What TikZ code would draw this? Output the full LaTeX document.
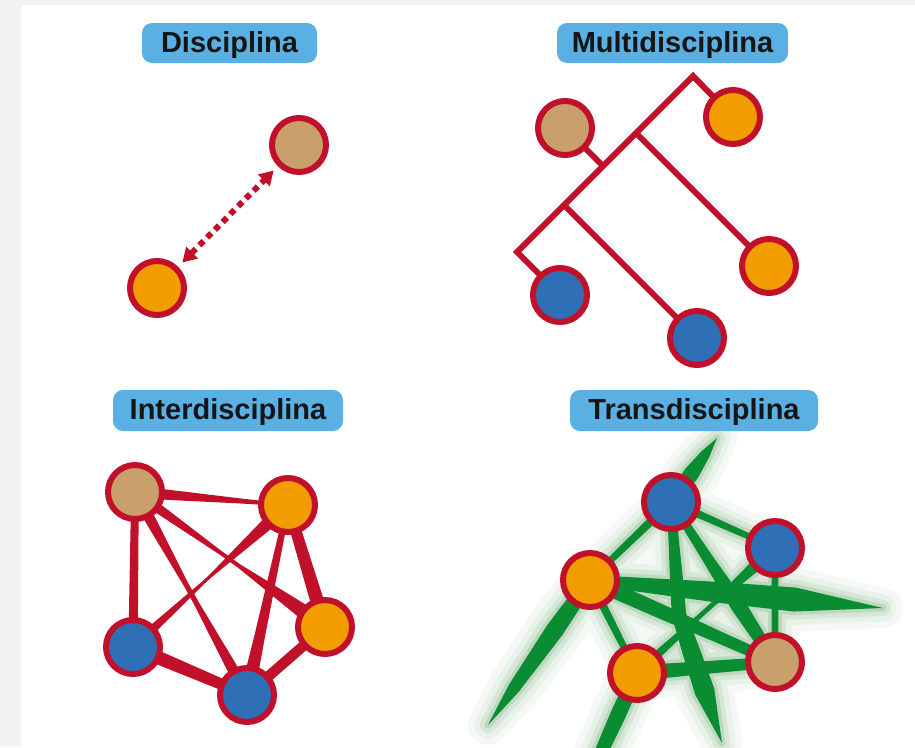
\documentclass[tikz,border=0pt]{standalone}
\usepackage{fontspec}
\setmainfont{Liberation Sans}
\usetikzlibrary{calc,arrows.meta}
\pgfdeclarelayer{back}
\pgfdeclarelayer{bg}
\pgfsetlayers{back,bg,main}
\definecolor{ringred}{HTML}{C0102A}
\definecolor{tanc}{HTML}{C9A06C}
\definecolor{orc}{HTML}{F39C00}
\definecolor{bluec}{HTML}{2F6FB6}
\definecolor{lblue}{HTML}{5BB0E3}
\definecolor{greenc}{HTML}{0A8C32}
\definecolor{glowa}{RGB}{245,249,245}
\definecolor{glowb}{RGB}{233,242,233}
\definecolor{glowc}{RGB}{214,231,215}
\definecolor{glowd}{RGB}{190,216,192}
\definecolor{pagegrey}{HTML}{F2F2F0}
\definecolor{lbltext}{HTML}{151515}
% tapered band: [style]{a}{b}{ha}{f1}{h1}{f2}{h2}{hb}
\newcommand\tq[9][]{%
  \path[#1] ($(#2)!#4!90:(#3)$)
    -- ($(#2)!#5!(#3)!#6!90:(#3)$)
    -- ($(#2)!#7!(#3)!#8!90:(#3)$)
    -- ($(#3)!#9!-90:(#2)$)
    -- ($(#3)!#9!90:(#2)$)
    -- ($(#2)!#7!(#3)!#8!-90:(#3)$)
    -- ($(#2)!#5!(#3)!#6!-90:(#3)$)
    -- ($(#2)!#4!-90:(#3)$) -- cycle;}
\newcommand\greenleaves[1]{%
  \tq[#1]{tOL}{tBT}{3pt}{0.4}{3.6pt}{0.7}{4pt}{4.2pt}
  \tq[#1]{tBT}{tN}{6pt}{0.45}{7.8pt}{0.75}{4.8pt}{0pt}
  \tq[#1]{tOL}{tR}{5pt}{0.45}{10.5pt}{0.7}{12pt}{0pt}
  \tq[#1]{tOL}{tSW}{7pt}{0.35}{9pt}{0.75}{6pt}{0pt}
  \tq[#1]{tOL}{tTN}{7.8pt}{0.4}{7.2pt}{0.7}{6pt}{5.4pt}
  \tq[#1]{tOL}{tOB}{4.2pt}{0.4}{3.8pt}{0.7}{3.4pt}{3pt}
  \tq[#1]{tBT}{tBR}{4.2pt}{0.4}{3.6pt}{0.7}{3.2pt}{3pt}
  \tq[#1]{tBT}{tTN}{3.6pt}{0.35}{5.4pt}{0.65}{7.8pt}{5.4pt}
  \tq[#1]{tBT}{mS}{4.2pt}{0.4}{5.4pt}{0.7}{6.6pt}{7.2pt}
  \tq[#1]{mS}{tS}{7.2pt}{0.3}{9pt}{0.6}{10pt}{0pt}
  \tq[#1]{tBR}{tOB}{7.2pt}{0.45}{2.4pt}{0.55}{2.4pt}{4.8pt}
  \tq[#1]{tBR}{tTN}{3.3pt}{0.4}{3.3pt}{0.7}{3.3pt}{3.3pt}
  \tq[#1]{tOB}{tTN}{7.8pt}{0.4}{6.6pt}{0.7}{6pt}{5.4pt}
  \tq[#1]{tOB}{tB}{7.2pt}{0.3}{7.8pt}{0.6}{6.6pt}{0pt}
}
\begin{document}
\begin{tikzpicture}[x=1pt,y=-1pt,
  disc/.style={circle, draw=ringred, line width=6pt, minimum size=54pt, inner sep=0pt},
  tandisc/.style={disc, fill=tanc},
  ordisc/.style={disc, fill=orc},
  bluedisc/.style={disc, fill=bluec},
  lbl/.style={fill=lblue, rounded corners=10pt, minimum height=40pt, inner sep=0pt,
    text height=18.6pt, text depth=0pt, text=lbltext,
    font=\fontsize{29}{31}\selectfont\bfseries},
  tree/.style={draw=ringred, line width=6pt, line join=miter},
  arrowst/.style={draw=ringred, line width=6pt, dash pattern=on 6pt off 5pt,
    {Triangle[length=14pt,width=16pt]}-{Triangle[length=14pt,width=16pt]},
    shorten <=6pt, shorten >=6pt}]
\clip (0,0) rectangle (915,747);
\begin{pgfonlayer}{back}
\fill[pagegrey] (0,0) rectangle (915,747);
\fill[white, rounded corners=3pt] (21,5) rectangle (930,760);
\end{pgfonlayer}

% ---------- labels
\node[lbl, minimum width=175pt] (l1) at (229.5,43) {Disciplina};
\node[lbl, minimum width=231pt] (l2) at (672.5,43) {Multidisciplina};
\node[lbl, minimum width=230pt, minimum height=41pt] (l3) at (228,410.5) {Interdisciplina};
\node[lbl, minimum width=248pt, minimum height=41pt] (l4) at (694,410.5) {Transdisciplina};

% ---------- Disciplina
\node[tandisc] (dT) at (299,145) {};
\node[ordisc] (dO) at (157,288) {};
\draw[arrowst] (dO) -- (dT);

% ---------- Multidisciplina
\coordinate (mA) at (693,76);
\coordinate (mL) at (517,252);
\coordinate (mB1) at (636,133);
\coordinate (mB2) at (564,205);
\coordinate (mJ) at (603,166);
\node[tandisc] (mT) at (565,128) {};
\node[ordisc] (mO1) at (733,117) {};
\node[ordisc] (mO2) at (769,266) {};
\node[bluedisc] (mU1) at (560,295) {};
\node[bluedisc] (mU2) at (697,338) {};
\begin{pgfonlayer}{bg}
\draw[tree] (mO1.center) -- (mA) -- (mL) -- (mU1.center);
\draw[tree] (mB1) -- (mO2.center);
\draw[tree] (mB2) -- (mU2.center);
\draw[tree] (mJ) -- (mT.center);
\end{pgfonlayer}

% ---------- Interdisciplina
\node[tandisc] (iT) at (135,492) {};
\node[ordisc] (iO1) at (288,505) {};
\node[ordisc] (iO2) at (325,627) {};
\node[bluedisc] (iB1) at (133,647) {};
\node[bluedisc] (iB2) at (247,695) {};
\begin{pgfonlayer}{bg}
\tq[fill=ringred]{iT}{iO1}{6pt}{0.33}{4.5pt}{0.67}{2.6pt}{1.3pt}
\tq[fill=ringred]{iT}{iB1}{3.8pt}{0.33}{4.1pt}{0.67}{4.4pt}{4.7pt}
\tq[fill=ringred]{iT}{iB2}{6.5pt}{0.45}{2.6pt}{0.55}{2.6pt}{6.5pt}
\tq[fill=ringred]{iT}{iO2}{5.8pt}{0.45}{2pt}{0.55}{2pt}{9pt}
\tq[fill=ringred]{iO1}{iB1}{7.8pt}{0.5}{1.6pt}{0.55}{1.6pt}{5.2pt}
\tq[fill=ringred]{iO1}{iB2}{2.6pt}{0.33}{3.9pt}{0.67}{5.2pt}{7.2pt}
\tq[fill=ringred]{iO1}{iO2}{5.2pt}{0.33}{5.8pt}{0.67}{6.5pt}{7.2pt}
\tq[fill=ringred]{iB1}{iB2}{7.2pt}{0.33}{6.5pt}{0.67}{5.8pt}{5.2pt}
\tq[fill=ringred]{iO2}{iB2}{4.5pt}{0.33}{5.2pt}{0.67}{5.2pt}{5.8pt}
\end{pgfonlayer}

% ---------- Transdisciplina
\node[bluedisc] (tBT) at (671,502) {};
\node[bluedisc] (tBR) at (775,548) {};
\node[ordisc] (tOL) at (590,580) {};
\node[ordisc] (tOB) at (637,673) {};
\node[tandisc] (tTN) at (775,662) {};
\coordinate (tN) at (717,438);
\coordinate (tR) at (883,608);
\coordinate (tSW) at (488,725);
\coordinate (mS) at (679,615);
\coordinate (tS) at (722,743);
\coordinate (tB) at (575,810);
\begin{pgfonlayer}{bg}
\greenleaves{draw=glowa,fill=glowa,line width=40pt,line join=round}
\greenleaves{draw=glowb,fill=glowb,line width=27pt,line join=round}
\greenleaves{draw=glowc,fill=glowc,line width=16pt,line join=round}
\greenleaves{draw=glowd,fill=glowd,line width=7pt,line join=round}
\greenleaves{fill=greenc}
\end{pgfonlayer}
\end{tikzpicture}
\end{document}
